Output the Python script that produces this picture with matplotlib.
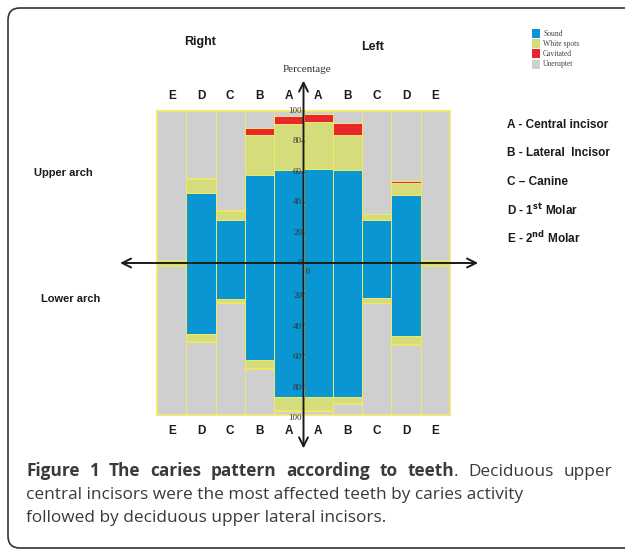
import matplotlib
matplotlib.use("Agg")
import matplotlib.pyplot as plt
from matplotlib.patches import FancyBboxPatch, Rectangle

# teeth, from right E to left E
teeth = ["E", "D", "C", "B", "A", "A", "B", "C", "D", "E"]

# upper arch (%)
sound_up = [0, 46, 28, 58, 61, 62, 61, 28, 45, 0]
white_up = [2, 9, 6, 26, 30.5, 30.5, 23.5, 4.5, 7.5, 2]
cav_up = [0, 1, 0.7, 5, 5.5, 5.5, 7.3, 0, 1.3, 0]

# lower arch (%)
sound_lo = [0, 47, 24, 64, 88, 88, 88, 23, 48, 0]
white_lo = [2, 4, 1.5, 5, 8.5, 8.5, 4, 3.5, 5, 2]
cav_lo = [0, 1, 0.8, 1, 1, 1, 1, 0, 1.2, 0]

y_ticks = [0, 20, 40, 60, 80, 100]
legend_names = ["Sound", "White spots", "Cavitated", "Uneruptet"]
key_lines = ["A - Central incisor", "B - Lateral  Incisor", "C \u2013 Canine",
             "D - 1$^{\\mathbf{st}}$ Molar", "E - 2$^{\\mathbf{nd}}$ Molar"]

# caption: first line is justified; "." sticks to the word before it
caption_line1 = [("Figure", "bold"), ("1", "bold"), ("The", "bold"), ("caries", "bold"),
                 ("pattern", "bold"), ("according", "bold"), ("to", "bold"), ("teeth", "bold"),
                 (".", "normal"), ("Deciduous", "normal"), ("upper", "normal")]
caption_rest = ["central incisors were the most affected teeth by caries activity",
                "followed by deciduous upper lateral incisors."]

C_SOUND = "#0a96d2"
C_WHITE = "#d5dc7c"
C_CAV = "#e8262b"
C_GRAY = "#cfcfcf"
C_EDGE = "#f0e866"
INK = "#1a1a1a"
colors = [C_SOUND, C_WHITE, C_CAV, C_GRAY]

fig = plt.figure(figsize=(6.25, 5.55), dpi=100)

# background axes in pixel units for the surrounding text
bg = fig.add_axes([0, 0, 1, 1])
bg.set_xlim(0, 625)
bg.set_ylim(555, 0)
bg.axis("off")

bg.add_patch(FancyBboxPatch((8, 8), 640, 540, boxstyle="round,pad=0,rounding_size=12",
                            fc="none", ec="#333333", lw=1.2, clip_on=False))

sans = ["Liberation Sans Narrow", "Liberation Sans"]
bg.text(200, 42, "Right", ha="center", va="center", fontsize=9, fontweight="bold", family=sans, color=INK)
bg.text(373, 47, "Left", ha="center", va="center", fontsize=9, fontweight="bold", family=sans, color=INK)
bg.text(307, 70, "Percentage", ha="center", va="center", fontsize=8, family="Liberation Serif", color="#333")
bg.text(34, 173, "Upper arch", ha="left", va="center", fontsize=8, fontweight="bold", family=sans, color=INK)
bg.text(41, 299, "Lower arch", ha="left", va="center", fontsize=8, fontweight="bold", family=sans, color=INK)

# legend
for i, (name, c) in enumerate(zip(legend_names, colors)):
    y = 29 + i * 10.2
    bg.add_patch(Rectangle((532, y), 8, 9, fc=c, ec="none"))
    bg.text(543, y + 4.5, name, ha="left", va="center", fontsize=5.5,
            family="Liberation Serif", color="#444")

# key
for i, line in enumerate(key_lines):
    bg.text(507, 125 + i * 28.3, line, ha="left", va="center", fontsize=8.5,
            fontweight="bold", family=sans, color=INK)

# caption
cap_kw = dict(fontsize=12.4, family="Open Sans", color="#3a3a3a", va="baseline")
renderer = fig.canvas.get_renderer()
inv = bg.transData.inverted()
words = [bg.text(0, 476, w, fontweight=wt, **cap_kw) for w, wt in caption_line1]
widths = []
for t in words:
    bb = t.get_window_extent(renderer)
    widths.append(inv.transform((bb.x1, 0))[0] - inv.transform((bb.x0, 0))[0])
n_gaps = sum(1 for w, _ in caption_line1[1:] if w != ".")
gap = (612 - 26 - sum(widths)) / n_gaps
xpos = 26
for (w, _), t, wd in zip(caption_line1, words, widths):
    if w != "." and t is not words[0]:
        xpos += gap
    t.set_x(xpos)
    xpos += wd
for i, line in enumerate(caption_rest):
    bg.text(26, 499 + i * 23, line, **cap_kw)

# chart axes
ax = fig.add_axes([157 / 625, 1 - 415 / 555, 293 / 625, 304 / 555])
ax.set_xlim(0, 10)
ax.set_ylim(-100, 100)
ax.patch.set_visible(False)
ax.set_xticks([])
ax.set_yticks([])
for s in ax.spines.values():
    s.set_color(C_EDGE)
    s.set_linewidth(1.2)

x = [i + 0.5 for i in range(len(teeth))]
bar_kw = dict(width=1.0, edgecolor=C_EDGE, linewidth=0.7)
for sound, white, cav, sign in [(sound_up, white_up, cav_up, 1), (sound_lo, white_lo, cav_lo, -1)]:
    base = [0] * len(x)
    gray = [100 - a - b - c for a, b, c in zip(sound, white, cav)]
    for vals, c in zip([sound, white, cav, gray], colors):
        ax.bar(x, [sign * v for v in vals], bottom=base, color=c, **bar_kw)
        base = [b + sign * v for b, v in zip(base, vals)]

# arrows for the axes
arrow = dict(arrowstyle="<->", color=INK, lw=1.4, mutation_scale=16, shrinkA=0, shrinkB=0)
ax.annotate("", xy=(-1.26, 0), xytext=(10.96, 0), arrowprops=arrow, annotation_clip=False)
ax.annotate("", xy=(5, 120), xytext=(5, -122), arrowprops=arrow, annotation_clip=False)

# tick labels along the vertical axis
for v in y_ticks:
    ax.plot([4.93, 5.0], [v, v], color="#555", lw=0.6)
    ax.text(4.95, v, str(v), ha="right", va="center", fontsize=6.5,
            family="Liberation Serif", color="#333")
    if v == 0:
        ax.text(5.07, -6, "0", ha="left", va="center", fontsize=6.5,
                family="Liberation Serif", color="#333")
    else:
        ax.plot([4.93, 5.0], [-v, -v], color="#555", lw=0.6)
        ax.text(4.95, -v - 2, str(v), ha="right", va="center", fontsize=6.5,
                family="Liberation Serif", color="#333")

# tooth letters above and below
for xi, t in zip(x, teeth):
    ax.text(xi, 110, t, ha="center", va="center", fontsize=8.5, fontweight="bold",
            family=sans, color=INK, clip_on=False)
    ax.text(xi, -110.5, t, ha="center", va="center", fontsize=8.5, fontweight="bold",
            family=sans, color=INK, clip_on=False)

fig.savefig("out.png", dpi=100)
